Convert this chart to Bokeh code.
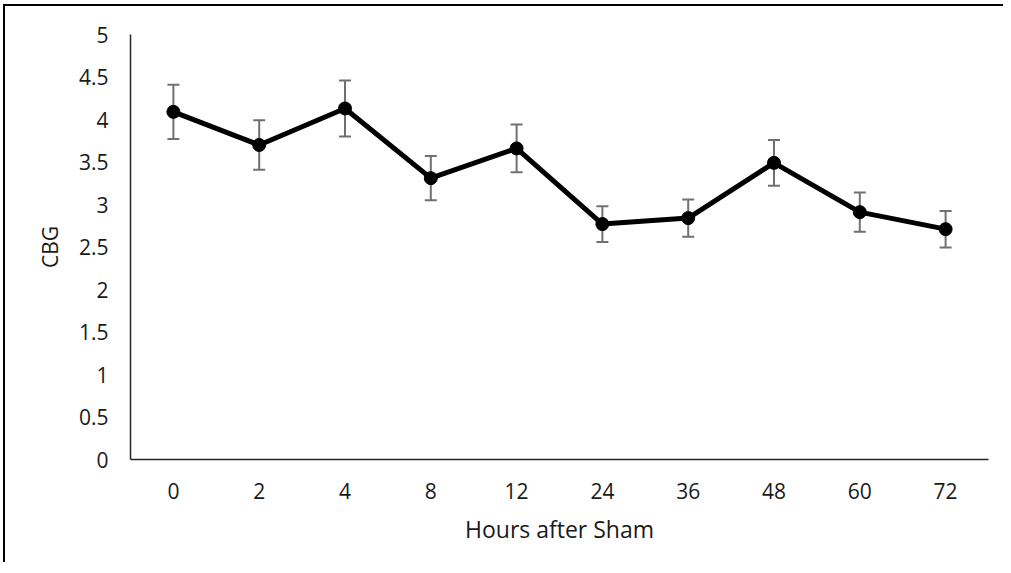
from bokeh.plotting import figure
from bokeh.models import FactorRange, Range1d, FixedTicker, NumeralTickFormatter
from bokeh.embed import file_html
from bokeh.resources import INLINE

# Data
hours = ["0", "2", "4", "8", "12", "24", "36", "48", "60", "72"]
cbg = [4.09, 3.70, 4.13, 3.31, 3.66, 2.77, 2.84, 3.49, 2.91, 2.71]
err = [0.32, 0.29, 0.33, 0.26, 0.28, 0.21, 0.22, 0.27, 0.23, 0.215]
y_ticks = [0, 0.5, 1, 1.5, 2, 2.5, 3, 3.5, 4, 4.5, 5]

upper = [v + e for v, e in zip(cbg, err)]
lower = [v - e for v, e in zip(cbg, err)]

FONT = "Open Sans"
TXT = "#1a1a1a"
AXC = "#262626"
ERRC = "#707070"

p = figure(
    width=1000, height=558,
    x_range=FactorRange(*hours, range_padding=0),
    y_range=Range1d(0, 5),
    output_backend="svg", toolbar_location=None,
    min_border_left=125, min_border_right=17,
    min_border_top=28, min_border_bottom=105,
)
p.styles = {"border-top": "2px solid black", "border-left": "2px solid black",
            "margin-left": "3px", "margin-top": "4px"}
p.outline_line_color = None
p.xgrid.grid_line_color = None
p.ygrid.grid_line_color = None
p.background_fill_color = "white"
p.border_fill_color = "white"

# error bars
p.segment(x0=hours, y0=lower, x1=hours, y1=upper, line_color=ERRC, line_width=2)
p.scatter(x=hours, y=upper, marker="dash", size=12, line_color=ERRC, line_width=2)
p.scatter(x=hours, y=lower, marker="dash", size=12, line_color=ERRC, line_width=2)

# main series
p.line(x=hours, y=cbg, line_color="black", line_width=5, line_join="round")
p.scatter(x=hours, y=cbg, size=13, fill_color="black", line_color="black")

for ax in (p.xaxis[0], p.yaxis[0]):
    ax.axis_line_color = AXC
    ax.axis_line_width = 1.5
    ax.major_tick_line_color = None
    ax.minor_tick_line_color = None
    ax.major_tick_out = 0
    ax.major_tick_in = 0
    ax.major_label_text_font = FONT
    ax.major_label_text_font_size = "21px"
    ax.major_label_text_color = TXT
    ax.axis_label_text_font = FONT
    ax.axis_label_text_font_style = "normal"
    ax.axis_label_text_color = TXT

p.yaxis.ticker = FixedTicker(ticks=y_ticks)
p.yaxis.formatter = NumeralTickFormatter(format="0.[0]")
p.yaxis.major_label_standoff = 22
p.yaxis.axis_label = "CBG"
p.yaxis.axis_label_text_font_size = "21px"
p.yaxis.axis_label_standoff = 12

p.xaxis.major_label_standoff = 23
p.xaxis.axis_label = "Hours after Sham"
p.xaxis.axis_label_text_font_size = "23px"
p.xaxis.axis_label_standoff = 11

open("out.html", "w").write(file_html(p, INLINE))
